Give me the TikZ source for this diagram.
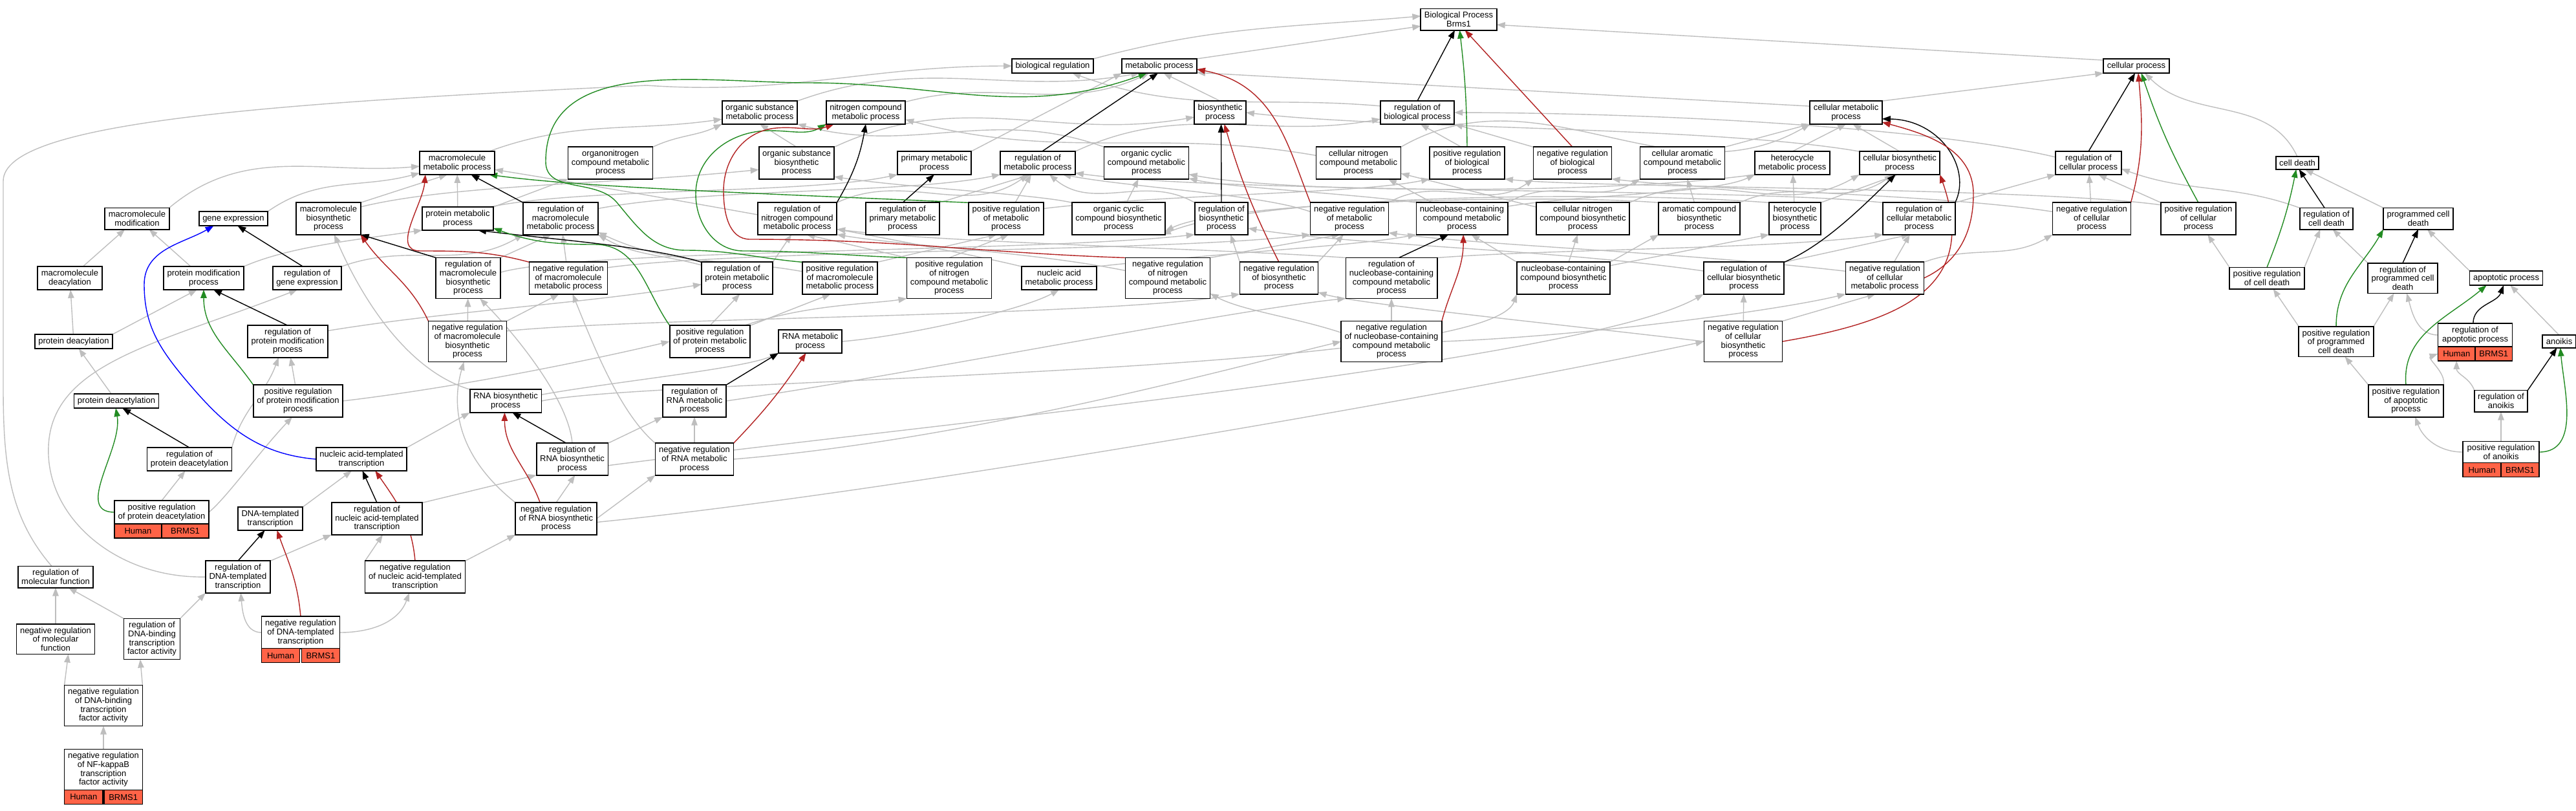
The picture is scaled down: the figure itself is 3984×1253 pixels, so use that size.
\documentclass[tikz,border=0pt]{standalone}
\usepackage{fontspec}
\setmainfont{Liberation Sans}
\usepackage{tikz}
\usetikzlibrary{arrows.meta}
\pgfdeclarelayer{edges}
\pgfsetlayers{edges,main}

\definecolor{isagray}{RGB}{190,190,190}
\definecolor{posgreen}{RGB}{34,139,34}
\definecolor{negred}{RGB}{178,34,34}
\definecolor{hitred}{RGB}{255,99,71}

\newcommand{\termfont}{\fontsize{3.7}{3.87}\selectfont}
\newcommand{\hitbar}[2]{%
  \node[hitcell, minimum width=#2, anchor=north west] (#1-hs) at (#1.south west) {Human};
  \node[hitcell, minimum width=#2, anchor=north east] (#1-gn) at (#1.south east) {BRMS1};
}

\begin{document}
\begin{tikzpicture}[x=0.01cm, y=-0.01cm,
    term/.style={draw, line width=0.018cm, fill=white, align=center, font=\termfont,
      inner xsep=0.055cm, inner ysep=0.05cm, outer sep=0pt},
    hitcell/.style={draw, line width=0.015cm, fill=hitred, font=\termfont,
      minimum height=0.22cm, inner sep=0pt, outer sep=0pt},
    isa/.style={draw=isagray, line width=0.014cm, -{Triangle[length=0.13cm, width=0.095cm]}},
    reg/.style={isa, draw=black},
    posreg/.style={isa, draw=posgreen},
    negreg/.style={isa, draw=negred},
    partof/.style={isa, draw=blue}]
  \useasboundingbox (0,0) rectangle (3984,1253);

  \node[term] (BP) at (2256,30) {Biological Process\\Brms1};
  \node[term] (bioreg) at (1628,102) {biological regulation};
  \node[term] (metab) at (1793,102) {metabolic process};
  \node[term] (cellproc) at (3304,102) {cellular process};

  \node[term] (orgsubmet) at (1175,174) {organic substance\\metabolic process};
  \node[term] (nitmet) at (1339,174) {nitrogen compound\\metabolic process};
  \node[term] (biosyn) at (1887,174) {biosynthetic\\process};
  \node[term] (regbio) at (2192,174) {regulation of\\biological process};
  \node[term] (cellmet) at (2855,174) {cellular metabolic\\process};

  \node[term] (macmet) at (707,252) {macromolecule\\metabolic process};
  \node[term] (orgnitmet) at (944,252) {organonitrogen\\compound metabolic\\process};
  \node[term] (orgsubbio) at (1232,252) {organic substance\\biosynthetic\\process};
  \node[term] (primmet) at (1445,252) {primary metabolic\\process};
  \node[term] (regmet) at (1605,252) {regulation of\\metabolic process};
  \node[term] (orgcycmet) at (1773,252) {organic cyclic\\compound metabolic\\process};
  \node[term] (cellnitmet) at (2101,252) {cellular nitrogen\\compound metabolic\\process};
  \node[term] (posregbio) at (2269,252) {positive regulation\\of biological\\process};
  \node[term] (negregbio) at (2432,252) {negative regulation\\of biological\\process};
  \node[term] (cellaromet) at (2602,252) {cellular aromatic\\compound metabolic\\process};
  \node[term] (hetmet) at (2772,252) {heterocycle\\metabolic process};
  \node[term] (cellbio) at (2938,252) {cellular biosynthetic\\process};
  \node[term] (regcell) at (3230,252) {regulation of\\cellular process};
  \node[term] (celldeath) at (3553,252) {cell death};

  \node[term] (macmod) at (212,338) {macromolecule\\modification};
  \node[term] (geneexp) at (361,338) {gene expression};
  \node[term] (macbio) at (508,338) {macromolecule\\biosynthetic\\process};
  \node[term] (protmet) at (708,338) {protein metabolic\\process};
  \node[term] (regmacmet) at (867,338) {regulation of\\macromolecule\\metabolic process};
  \node[term] (regnitmet) at (1233,338) {regulation of\\nitrogen compound\\metabolic process};
  \node[term] (regprimmet) at (1396,338) {regulation of\\primary metabolic\\process};
  \node[term] (posregmet) at (1556,338) {positive regulation\\of metabolic\\process};
  \node[term] (orgcycbio) at (1730,338) {organic cyclic\\compound biosynthetic\\process};
  \node[term] (regbiosyn) at (1889,338) {regulation of\\biosynthetic\\process};
  \node[term] (negregmet) at (2087,338) {negative regulation\\of metabolic\\process};
  \node[term] (nucmet) at (2261,338) {nucleobase-containing\\compound metabolic\\process};
  \node[term] (cellnitbio) at (2448,338) {cellular nitrogen\\compound biosynthetic\\process};
  \node[term] (arombio) at (2628,338) {aromatic compound\\biosynthetic\\process};
  \node[term] (hetbio) at (2776,338) {heterocycle\\biosynthetic\\process};
  \node[term] (regcellmet) at (2968,338) {regulation of\\cellular metabolic\\process};
  \node[term] (negregcell) at (3235,338) {negative regulation\\of cellular\\process};
  \node[term] (posregcell) at (3400,338) {positive regulation\\of cellular\\process};
  \node[term] (regcelldeath) at (3598,338) {regulation of\\cell death};
  \node[term] (pcd) at (3740,338) {programmed cell\\death};

  \node[term] (macdeac) at (108,430) {macromolecule\\deacylation};
  \node[term] (protmod) at (315,430) {protein modification\\process};
  \node[term] (reggeneexp) at (475,430) {regulation of\\gene expression};
  \node[term] (regmacbio) at (724,430) {regulation of\\macromolecule\\biosynthetic\\process};
  \node[term] (negregmacmet) at (879,430) {negative regulation\\of macromolecule\\metabolic process};
  \node[term] (regprotmet) at (1140,430) {regulation of\\protein metabolic\\process};
  \node[term] (posregmacmet) at (1299,430) {positive regulation\\of macromolecule\\metabolic process};
  \node[term] (posregnitmet) at (1468,430) {positive regulation\\of nitrogen\\compound metabolic\\process};
  \node[term] (nucacidmet) at (1638,430) {nucleic acid\\metabolic process};
  \node[term] (negregnitmet) at (1806,430) {negative regulation\\of nitrogen\\compound metabolic\\process};
  \node[term] (negregbiosyn) at (1978,430) {negative regulation\\of biosynthetic\\process};
  \node[term] (regnucmet) at (2152,430) {regulation of\\nucleobase-containing\\compound metabolic\\process};
  \node[term] (nucbio) at (2418,430) {nucleobase-containing\\compound biosynthetic\\process};
  \node[term] (regcellbio) at (2697,430) {regulation of\\cellular biosynthetic\\process};
  \node[term] (negregcellmet) at (2915,430) {negative regulation\\of cellular\\metabolic process};
  \node[term] (posregcelldeath) at (3506,430) {positive regulation\\of cell death};
  \node[term] (regpcd) at (3716,430) {regulation of\\programmed cell\\death};
  \node[term] (apop) at (3876,430) {apoptotic process};

  \node[term] (protdeac) at (114,528) {protein deacylation};
  \node[term] (regprotmod) at (445,528) {regulation of\\protein modification\\process};
  \node[term] (negregmacbio) at (723,528) {negative regulation\\of macromolecule\\biosynthetic\\process};
  \node[term] (posregprotmet) at (1098,528) {positive regulation\\of protein metabolic\\process};
  \node[term] (rnamet) at (1253,528) {RNA metabolic\\process};
  \node[term] (negregnucmet) at (2152,528) {negative regulation\\of nucleobase-containing\\compound metabolic\\process};
  \node[term] (negregcellbio) at (2696,528) {negative regulation\\of cellular\\biosynthetic\\process};
  \node[term] (posregpcd) at (3613,528) {positive regulation\\of programmed\\cell death};
  \node[term, minimum width=1.15cm] (regapop) at (3828,518) {regulation of\\apoptotic process};
  \hitbar{regapop}{0.575cm}
  \node[term] (anoikis) at (3958,528) {anoikis};

  \node[term] (protdeacet) at (180,620) {protein deacetylation};
  \node[term] (posregprotmod) at (461,620) {positive regulation\\of protein modification\\process};
  \node[term] (rnabio) at (782,620) {RNA biosynthetic\\process};
  \node[term] (regrnamet) at (1074,620) {regulation of\\RNA metabolic\\process};
  \node[term] (posregapop) at (3721,620) {positive regulation\\of apoptotic\\process};
  \node[term] (reganoikis) at (3868,620) {regulation of\\anoikis};

  \node[term] (regprotdeacet) at (293,710) {regulation of\\protein deacetylation};
  \node[term] (nuctrans) at (559,710) {nucleic acid-templated\\transcription};
  \node[term] (regrnabio) at (885,710) {regulation of\\RNA biosynthetic\\process};
  \node[term] (negregrnamet) at (1074,710) {negative regulation\\of RNA metabolic\\process};
  \node[term, minimum width=1.18cm] (posreganoikis) at (3868,699) {positive regulation\\of anoikis};
  \hitbar{posreganoikis}{0.59cm}

  \node[term, minimum width=1.46cm] (posregprotdeacet) at (250,792) {positive regulation\\of protein deacetylation};
  \hitbar{posregprotdeacet}{0.73cm}
  \node[term] (dnatrans) at (418,802) {DNA-templated\\transcription};
  \node[term] (regnuctrans) at (583,802) {regulation of\\nucleic acid-templated\\transcription};
  \node[term] (negregrnabio) at (860,802) {negative regulation\\of RNA biosynthetic\\process};

  \node[term] (regmolfunc) at (86,892) {regulation of\\molecular function};
  \node[term] (regdnatrans) at (368,892) {regulation of\\DNA-templated\\transcription};
  \node[term] (negregnuctrans) at (642,892) {negative regulation\\of nucleic acid-templated\\transcription};

  \node[term] (negregmolfunc) at (86,988) {negative regulation\\of molecular\\function};
  \node[term] (regdnabind) at (235,988) {regulation of\\DNA-binding\\transcription\\factor activity};
  \node[term, minimum width=1.18cm] (negregdnatrans) at (465,978) {negative regulation\\of DNA-templated\\transcription};
  \hitbar{negregdnatrans}{0.59cm}

  \node[term] (negregdnabind) at (160,1091) {negative regulation\\of DNA-binding\\transcription\\factor activity};
  \node[term, minimum width=1.19cm] (negregnfkb) at (160,1190) {negative regulation\\of NF-kappaB\\transcription\\factor activity};
  \hitbar{negregnfkb}{0.595cm}

  \begin{pgfonlayer}{edges}
  % is_a
  \draw[isa] (bioreg.north east) to[out=15,in=185] (BP.175);
  \draw[isa] (metab.north east) -- (BP.190);
  \draw[isa] (cellproc.170) -- (BP.-8);
  \draw[isa] (regbio.170) to[out=175,in=-20] (bioreg.-20);
  \draw[isa] (orgsubmet.north east) to[out=20,in=190] (metab.200);
  \draw[isa] (nitmet.15) to[out=15,in=205] (metab.215);
  \draw[isa] (biosyn.north) -- (metab.-60);
  \draw[isa] (cellmet.170) -- (metab.-10);
  \draw[isa] (cellmet.north east) -- (cellproc.south west);
  \draw[isa] (regmolfunc.110) .. controls (15,800) and (5,720) .. (5,600) -- (5,280)
    .. controls (5,190) and (400,160) .. (1000,132) to[out=-4,in=180] (bioreg.west);

  \draw[isa] (macmet.20) to[out=20,in=188] (orgsubmet.190);
  \draw[isa] (orgnitmet.north east) to[out=25,in=205] (orgsubmet.south west);
  \draw[isa] (orgsubbio.north) -- (orgsubmet.south);
  \draw[isa] (orgsubbio.north east) to[out=25,in=190] (biosyn.190);
  \draw[isa] (primmet.north east) -- (metab.south west);
  \draw[isa] (regmet.north east) to[out=25,in=190] (regbio.190);
  \draw[isa] (orgcycmet.north west) to[out=160,in=-15] (orgsubmet.south east);
  \draw[isa] (cellnitmet.170) to[out=170,in=-15] (nitmet.-10);
  \draw[isa] (cellnitmet.north east) to[out=30,in=210] (cellmet.south west);
  \draw[isa] (posregbio.110) -- (regbio.-75);
  \draw[isa] (negregbio.north west) -- (regbio.south east);
  \draw[isa] (cellaromet.north east) -- (cellmet.south west);
  \draw[isa] (hetmet.north) -- (cellmet.south);
  \draw[isa] (cellbio.north) -- (cellmet.-60);
  \draw[isa] (cellbio.north west) .. controls (2650,195) and (2150,200) .. (biosyn.east);
  \draw[isa] (hetmet.south west) .. controls (2500,300) and (2000,300) .. (orgcycmet.-15);
  \draw[isa] (regcell.170) .. controls (3000,200) and (2600,175) .. (regbio.east);
  \draw[isa] (celldeath.north) to[out=115,in=-45] (cellproc.-40);

  \draw[isa] (macmod.north east) to[out=40,in=185] (macmet.185);
  \draw[isa] (geneexp.north east) to[out=35,in=195] (macmet.195);
  \draw[isa] (macbio.north east) -- (macmet.230);
  \draw[isa] (macbio.20) .. controls (700,285) and (950,285) .. (orgsubbio.190);
  \draw[isa] (protmet) -- (macmet);
  \draw[isa] (protmet.north east) -- (orgnitmet.south west);
  \draw[isa] (protmet.20) .. controls (900,290) and (1250,300) .. (primmet.south west);
  \draw[isa] (regmacmet.15) .. controls (1100,290) and (1400,300) .. (regmet.south west);
  \draw[isa] (regnitmet.north east) to[out=25,in=215] (regmet.230);
  \draw[isa] (regprimmet.north east) -- (regmet.240);
  \draw[isa] (posregmet) -- (regmet);
  \draw[isa] (posregmet.15) .. controls (1800,300) and (2100,300) .. (posregbio.south west);
  \draw[isa] (orgcycbio) -- (orgcycmet);
  \draw[isa] (orgcycbio.north west) .. controls (1600,300) and (1400,290) .. (orgsubbio.-20);
  \draw[isa] (regbiosyn.north west) to[out=150,in=-40] (regmet.-45);
  \draw[isa] (negregmet.170) .. controls (1950,300) and (1750,290) .. (regmet.-25);
  \draw[isa] (negregmet.north east) to[out=30,in=215] (negregbio.south west);
  \draw[isa] (nucmet) -- (cellnitmet);
  \draw[isa] (nucmet.north east) to[out=30,in=210] (cellaromet.south west);
  \draw[isa] (nucmet.15) .. controls (2450,300) and (2650,300) .. (hetmet.south west);
  \draw[isa] (nucmet.north west) .. controls (2100,300) and (1900,290) .. (orgcycmet.-20);
  \draw[isa] (cellnitbio) -- (cellnitmet);
  \draw[isa] (cellnitbio.north east) to[out=25,in=210] (cellbio.south west);
  \draw[isa] (arombio) -- (cellaromet);
  \draw[isa] (arombio.north east) to[out=25,in=215] (cellbio.240);
  \draw[isa] (arombio.north west) .. controls (2400,300) and (1900,310) .. (orgcycbio.-15);
  \draw[isa] (hetbio) -- (hetmet);
  \draw[isa] (hetbio.north east) -- (cellbio.260);
  \draw[isa] (hetbio.north west) .. controls (2500,295) and (1950,300) .. (orgcycbio.-20);
  \draw[isa] (regcellmet.north east) -- (regcell.south west);
  \draw[isa] (regcellmet.north west) .. controls (2700,290) and (1900,300) .. (regmet.-15);
  \draw[isa] (negregcell) -- (regcell);
  \draw[isa] (negregcell.170) .. controls (3000,300) and (2650,295) .. (negregbio.south east);
  \draw[isa] (posregcell.north west) -- (regcell.-50);
  \draw[isa] (posregcell.160) .. controls (3150,290) and (2450,290) .. (posregbio.south east);
  \draw[isa] (regcelldeath.north west) to[out=160,in=-20] (regcell.-10);
  \draw[isa] (pcd.north west) -- (celldeath.-40);

  \draw[isa] (macdeac) -- (macmod);
  \draw[isa] (protmod) -- (macmod);
  \draw[isa] (protmod.north east) .. controls (450,380) and (560,370) .. (protmet.south west);
  \draw[isa] (reggeneexp.north east) to[out=20,in=210] (regmacmet.south west);
  \draw[isa] (regmacbio.north east) -- (regmacmet.240);
  \draw[isa] (regmacbio.10) .. controls (900,385) and (1600,390) .. (regbiosyn.south west);
  \draw[isa] (negregmacmet) -- (regmacmet);
  \draw[isa] (negregmacmet.15) .. controls (1150,385) and (1800,390) .. (negregmet.south west);
  \draw[isa] (regprotmet.160) to[out=165,in=-30] (regmacmet.south east);
  \draw[isa] (regprotmet.north east) -- (regnitmet.250);
  \draw[isa] (posregmacmet.170) to[out=170,in=-25] (regmacmet.-20);
  \draw[isa] (posregmacmet.north east) -- (posregmet.240);
  \draw[isa] (posregnitmet.north west) -- (regnitmet.-60);
  \draw[isa] (posregnitmet.north) -- (posregmet.-80);
  \draw[isa] (nucacidmet.north east) .. controls (1900,390) and (2100,380) .. (nucmet.south west);
  \draw[isa] (nucacidmet.north west) .. controls (1450,380) and (1000,300) .. (macmet.-10);
  \draw[isa] (negregnitmet.170) .. controls (1600,390) and (1400,380) .. (regnitmet.south east);
  \draw[isa] (negregnitmet.north east) -- (negregmet.240);
  \draw[isa] (negregbiosyn.north west) -- (regbiosyn.-60);
  \draw[isa] (negregbiosyn.north east) -- (negregmet.250);
  \draw[isa] (regnucmet.north east) .. controls (2400,385) and (2750,385) .. (regcellmet.south west);
  \draw[isa] (regnucmet.north west) .. controls (1900,385) and (1450,375) .. (regnitmet.-15);
  \draw[isa] (nucbio.north west) -- (nucmet.-60);
  \draw[isa] (nucbio) -- (cellnitbio);
  \draw[isa] (nucbio.north east) -- (arombio.south west);
  \draw[isa] (nucbio.15) -- (hetbio.south west);
  \draw[isa] (regcellbio.north east) -- (regcellmet.240);
  \draw[isa] (regcellbio.170) .. controls (2400,385) and (2100,380) .. (regbiosyn.-20);
  \draw[isa] (negregcellmet) -- (regcellmet);
  \draw[isa] (negregcellmet.north east) to[out=20,in=210] (negregcell.south west);
  \draw[isa] (negregcellmet.170) .. controls (2600,390) and (2300,380) .. (negregmet.-20);
  \draw[isa] (posregcelldeath.north east) -- (regcelldeath.240);
  \draw[isa] (posregcelldeath.north west) -- (posregcell.-60);
  \draw[isa] (regpcd.north west) -- (regcelldeath.-60);
  \draw[isa] (apop.north west) -- (pcd.-50);

  \draw[isa] (protdeac) -- (macdeac);
  \draw[isa] (protdeac.north east) -- (protmod.240);
  \draw[isa] (regprotmod.15) .. controls (700,480) and (900,470) .. (regprotmet.190);
  \draw[isa] (negregmacbio) -- (regmacbio);
  \draw[isa] (negregmacbio.north east) -- (negregmacmet.240);
  \draw[isa] (negregmacbio.15) .. controls (1000,490) and (1700,490) .. (negregbiosyn.south west);
  \draw[isa] (posregprotmet.north) -- (regprotmet.-80);
  \draw[isa] (posregprotmet.north east) -- (posregmacmet.240);
  \draw[isa] (posregprotmet.25) .. controls (1250,470) and (1350,470) .. (posregnitmet.south west);
  \draw[isa] (rnamet.east) .. controls (1400,520) and (1580,480) .. (nucacidmet.south);
  \draw[isa] (negregnucmet) -- (regnucmet);
  \draw[isa] (negregnucmet.east) .. controls (2450,520) and (2750,480) .. (negregcellmet.south west);
  \draw[isa] (negregnucmet.170) .. controls (2000,490) and (1920,480) .. (negregnitmet.-20);
  \draw[isa] (negregcellbio) -- (regcellbio);
  \draw[isa] (negregcellbio.north east) -- (negregcellmet.240);
  \draw[isa] (negregcellbio.west) .. controls (2400,500) and (2100,470) .. (negregbiosyn.-20);
  \draw[isa] (posregpcd.north west) -- (posregcelldeath.-60);
  \draw[isa] (posregpcd.north east) -- (regpcd.240);
  \draw[isa] (regapop.west) to[out=180,in=-75] (regpcd.-75);
  \draw[isa] (anoikis.north) -- (apop.-60);

  \draw[isa] (protdeacet) -- (protdeac);
  \draw[isa] (posregprotmod) -- (regprotmod);
  \draw[isa] (posregprotmod.east) .. controls (700,600) and (900,560) .. (posregprotmet.west);
  \draw[isa] (rnabio.north west) .. controls (620,570) and (550,440) .. (macbio.-70);
  \draw[isa] (rnabio.10) .. controls (950,590) and (1150,570) .. (rnamet.south west);
  \draw[isa] (rnabio.east) .. controls (1000,585) and (2300,580) .. (nucbio.south west);
  \draw[isa] (regrnamet.east) .. controls (1400,580) and (1900,480) .. (regnucmet.south west);
  \draw[isa] (posregapop.north west) -- (posregpcd.-60);
  \draw[isa] (posregapop.north east) to[out=75,in=-160] (regapop-hs.west);
  \draw[isa] (reganoikis.north west) to[out=110,in=-90] (regapop-hs.south);

  \draw[isa] (regprotdeacet.north east) to[out=75,in=-110] (regprotmod.240);
  \draw[isa] (nuctrans.north east) -- (rnabio.south west);
  \draw[isa] (regrnabio.north) .. controls (880,620) and (800,520) .. (regmacbio.-60);
  \draw[isa] (regrnabio.north east) -- (regrnamet.south west);
  \draw[isa] (regrnabio.-10) .. controls (1400,660) and (2450,560) .. (regcellbio.south west);
  \draw[isa] (negregrnamet) -- (regrnamet);
  \draw[isa] (negregrnamet.east) .. controls (1500,680) and (1900,570) .. (negregnucmet.west);
  \draw[isa] (negregrnamet.north west) .. controls (960,640) and (920,540) .. (negregmacmet.-75);
  \draw[isa] (posreganoikis) -- (reganoikis);
  \draw[isa] (posreganoikis.west) to[out=180,in=-70] (posregapop.-60);

  \draw[isa] (posregprotdeacet.north) -- (regprotdeacet.-110);
  \draw[isa] (posregprotdeacet.east) .. controls (350,770) and (400,700) .. (posregprotmod.250);
  \draw[isa] (dnatrans.north east) -- (nuctrans.230);
  \draw[isa] (regnuctrans.north east) -- (regrnabio.south west);
  \draw[isa] (negregrnabio.north) -- (regrnabio.-80);
  \draw[isa] (negregrnabio.north west) .. controls (700,700) and (700,620) .. (negregmacbio.-100);
  \draw[isa] (negregrnabio.east) -- (negregrnamet.south west);
  \draw[isa] (negregrnabio.-5) .. controls (1400,760) and (2300,600) .. (negregcellbio.west);

  \draw[isa] (regdnatrans.north east) -- (regnuctrans.south west);
  \draw[isa] (regdnatrans.west) .. controls (180,895) and (70,800) .. (75,690)
    .. controls (80,560) and (250,530) .. (reggeneexp.230);
  \draw[isa] (negregnuctrans.north west) -- (regnuctrans.-70);
  \draw[isa] (negregnuctrans.north east) -- (negregrnabio.south west);
  \draw[isa] (negregmolfunc) -- (regmolfunc);
  \draw[isa] (regdnabind.north west) -- (regmolfunc.-40);
  \draw[isa] (regdnabind.north east) -- (regdnatrans.south west);
  \draw[isa] (negregdnatrans.west) to[out=180,in=-85] (regdnatrans.-80);
  \draw[isa] (negregdnatrans.east) to[out=0,in=-110] (negregnuctrans.-110);
  \draw[isa] (negregdnabind.north west) -- (negregmolfunc.-50);
  \draw[isa] (negregdnabind.north east) -- (regdnabind.-120);
  \draw[isa] (negregnfkb) -- (negregdnabind);

  % regulates
  \draw[reg] (regbio.north) -- (BP.250);
  \draw[reg] (regmet.70) -- (metab.-100);
  \draw[reg] (regmacmet.north west) -- (macmet.-40);
  \draw[reg] (regnitmet.north east) to[bend right=10] (nitmet.south);
  \draw[reg] (regprimmet.north) -- (primmet.south);
  \draw[reg] (regbiosyn.north) -- (biosyn.-85);
  \draw[reg] (regprotmet.north west) .. controls (1000,380) and (850,370) .. (protmet.-30);
  \draw[reg] (regmacbio.north west) -- (macbio.south east);
  \draw[reg] (regnucmet.70) -- (nucmet.230);
  \draw[reg] (regcellmet.north east) .. controls (3050,260) and (3000,185) .. (cellmet.-10);
  \draw[reg] (regcellbio.north east) .. controls (2820,380) and (2880,320) .. (cellbio.-110);
  \draw[reg] (regcell.north) -- (cellproc.-100);
  \draw[reg] (reggeneexp.110) -- (geneexp.-60);
  \draw[reg] (regprotmod.north) -- (protmod.-50);
  \draw[reg] (regprotdeacet.north) -- (protdeacet.-50);
  \draw[reg] (regrnamet.north east) -- (rnamet.south west);
  \draw[reg] (regrnabio.110) -- (rnabio.-60);
  \draw[reg] (regnuctrans.north) -- (nuctrans.-85);
  \draw[reg] (regdnatrans.north) -- (dnatrans.-115);
  \draw[reg] (regcelldeath.100) -- (celldeath.-75);
  \draw[reg] (regpcd.north) -- (pcd.-90);
  \draw[reg] (regapop.100) to[out=90,in=-110] (apop.-110);
  \draw[reg] (reganoikis.north east) -- (anoikis.-110);

  % positively regulates
  \draw[posreg] (posregbio.north) to[bend right=3] (BP.275);
  \draw[posreg] (posregmet.north west) .. controls (1200,300) and (900,290) .. (macmet.-20);
  \draw[posreg] (posregmacmet.north west) to[out=175,in=0] (1061,387) to[out=180,in=-50] (954,313)
    to[out=130,in=-90] (844,250) to[out=90,in=180] (1250,128) to[out=0,in=200] (metab.-150);
  \draw[posreg] (posregnitmet.north west) to[out=178,in=0] (1150,388) to[out=180,in=-90] (1076,300)
    to[out=90,in=180] (1190,202) to[out=0,in=210] (nitmet.south west);
  \draw[posreg] (posregprotmet.north west) to[out=125,in=0] (920,378) to[out=180,in=-20] (protmet.-15);
  \draw[posreg] (posregprotmod.north west) to[out=125,in=-90] (protmod.south);
  \draw[posreg] (posregprotdeacet.west) to[out=180,in=-80] (protdeacet.-95);
  \draw[posreg] (posregcell.north) to[bend left=5] (cellproc.-55);
  \draw[posreg] (posregcelldeath.north) to[bend right=5] (celldeath.-100);
  \draw[posreg] (posregpcd.north) to[out=90,in=240] (pcd.south west);
  \draw[posreg] (posregapop.north) to[out=95,in=220] (apop.200);
  \draw[posreg] (posreganoikis.east) to[out=0,in=-85] (anoikis.-80);

  % negatively regulates
  \draw[negreg] (negregbio.north) -- (BP.300);
  \draw[negreg] (negregmet.north west) .. controls (1990,220) and (1970,130) .. (metab.-5);
  \draw[negreg] (negregmacmet.north west) to[out=165,in=0] (650,388) to[out=180,in=-95] (macmet.200);
  \draw[negreg] (negregnitmet.north west) to[out=178,in=0] (1160,370) to[out=180,in=-90] (1119,295)
    to[out=90,in=185] (1200,198) to[out=5,in=200] (nitmet.-160);
  \draw[negreg] (negregbiosyn.north) to[bend left=5] (biosyn.-70);
  \draw[negreg] (negregmacbio.north west) to[out=115,in=-55] (macbio.south east);
  \draw[negreg] (negregnucmet.north east) to[out=75,in=-90] (nucmet.-85);
  \draw[negreg] (negregcellmet.east) to[out=25,in=-90] (3052,300) to[out=90,in=-15] (cellmet.-15);
  \draw[negreg] (negregcellbio.east) .. controls (2950,495) and (3060,440) .. (cellbio.south east);
  \draw[negreg] (negregcell.north east) to[out=75,in=-85] (cellproc.-75);
  \draw[negreg] (negregrnamet.north east) to[bend right=5] (rnamet.-110);
  \draw[negreg] (negregrnabio.135) to[out=110,in=-90] (rnabio.-95);
  \draw[negreg] (negregnuctrans.north) to[out=95,in=-55] (nuctrans.-40);
  \draw[negreg] (negregdnatrans.north) to[out=95,in=-70] (dnatrans.-60);

  % part of
  \draw[partof] (nuctrans.west) to[out=175,in=-50] (287,587) to[out=130,in=-90] (223,440)
    to[out=90,in=210] (geneexp.200);
  \end{pgfonlayer}
\end{tikzpicture}
\end{document}
